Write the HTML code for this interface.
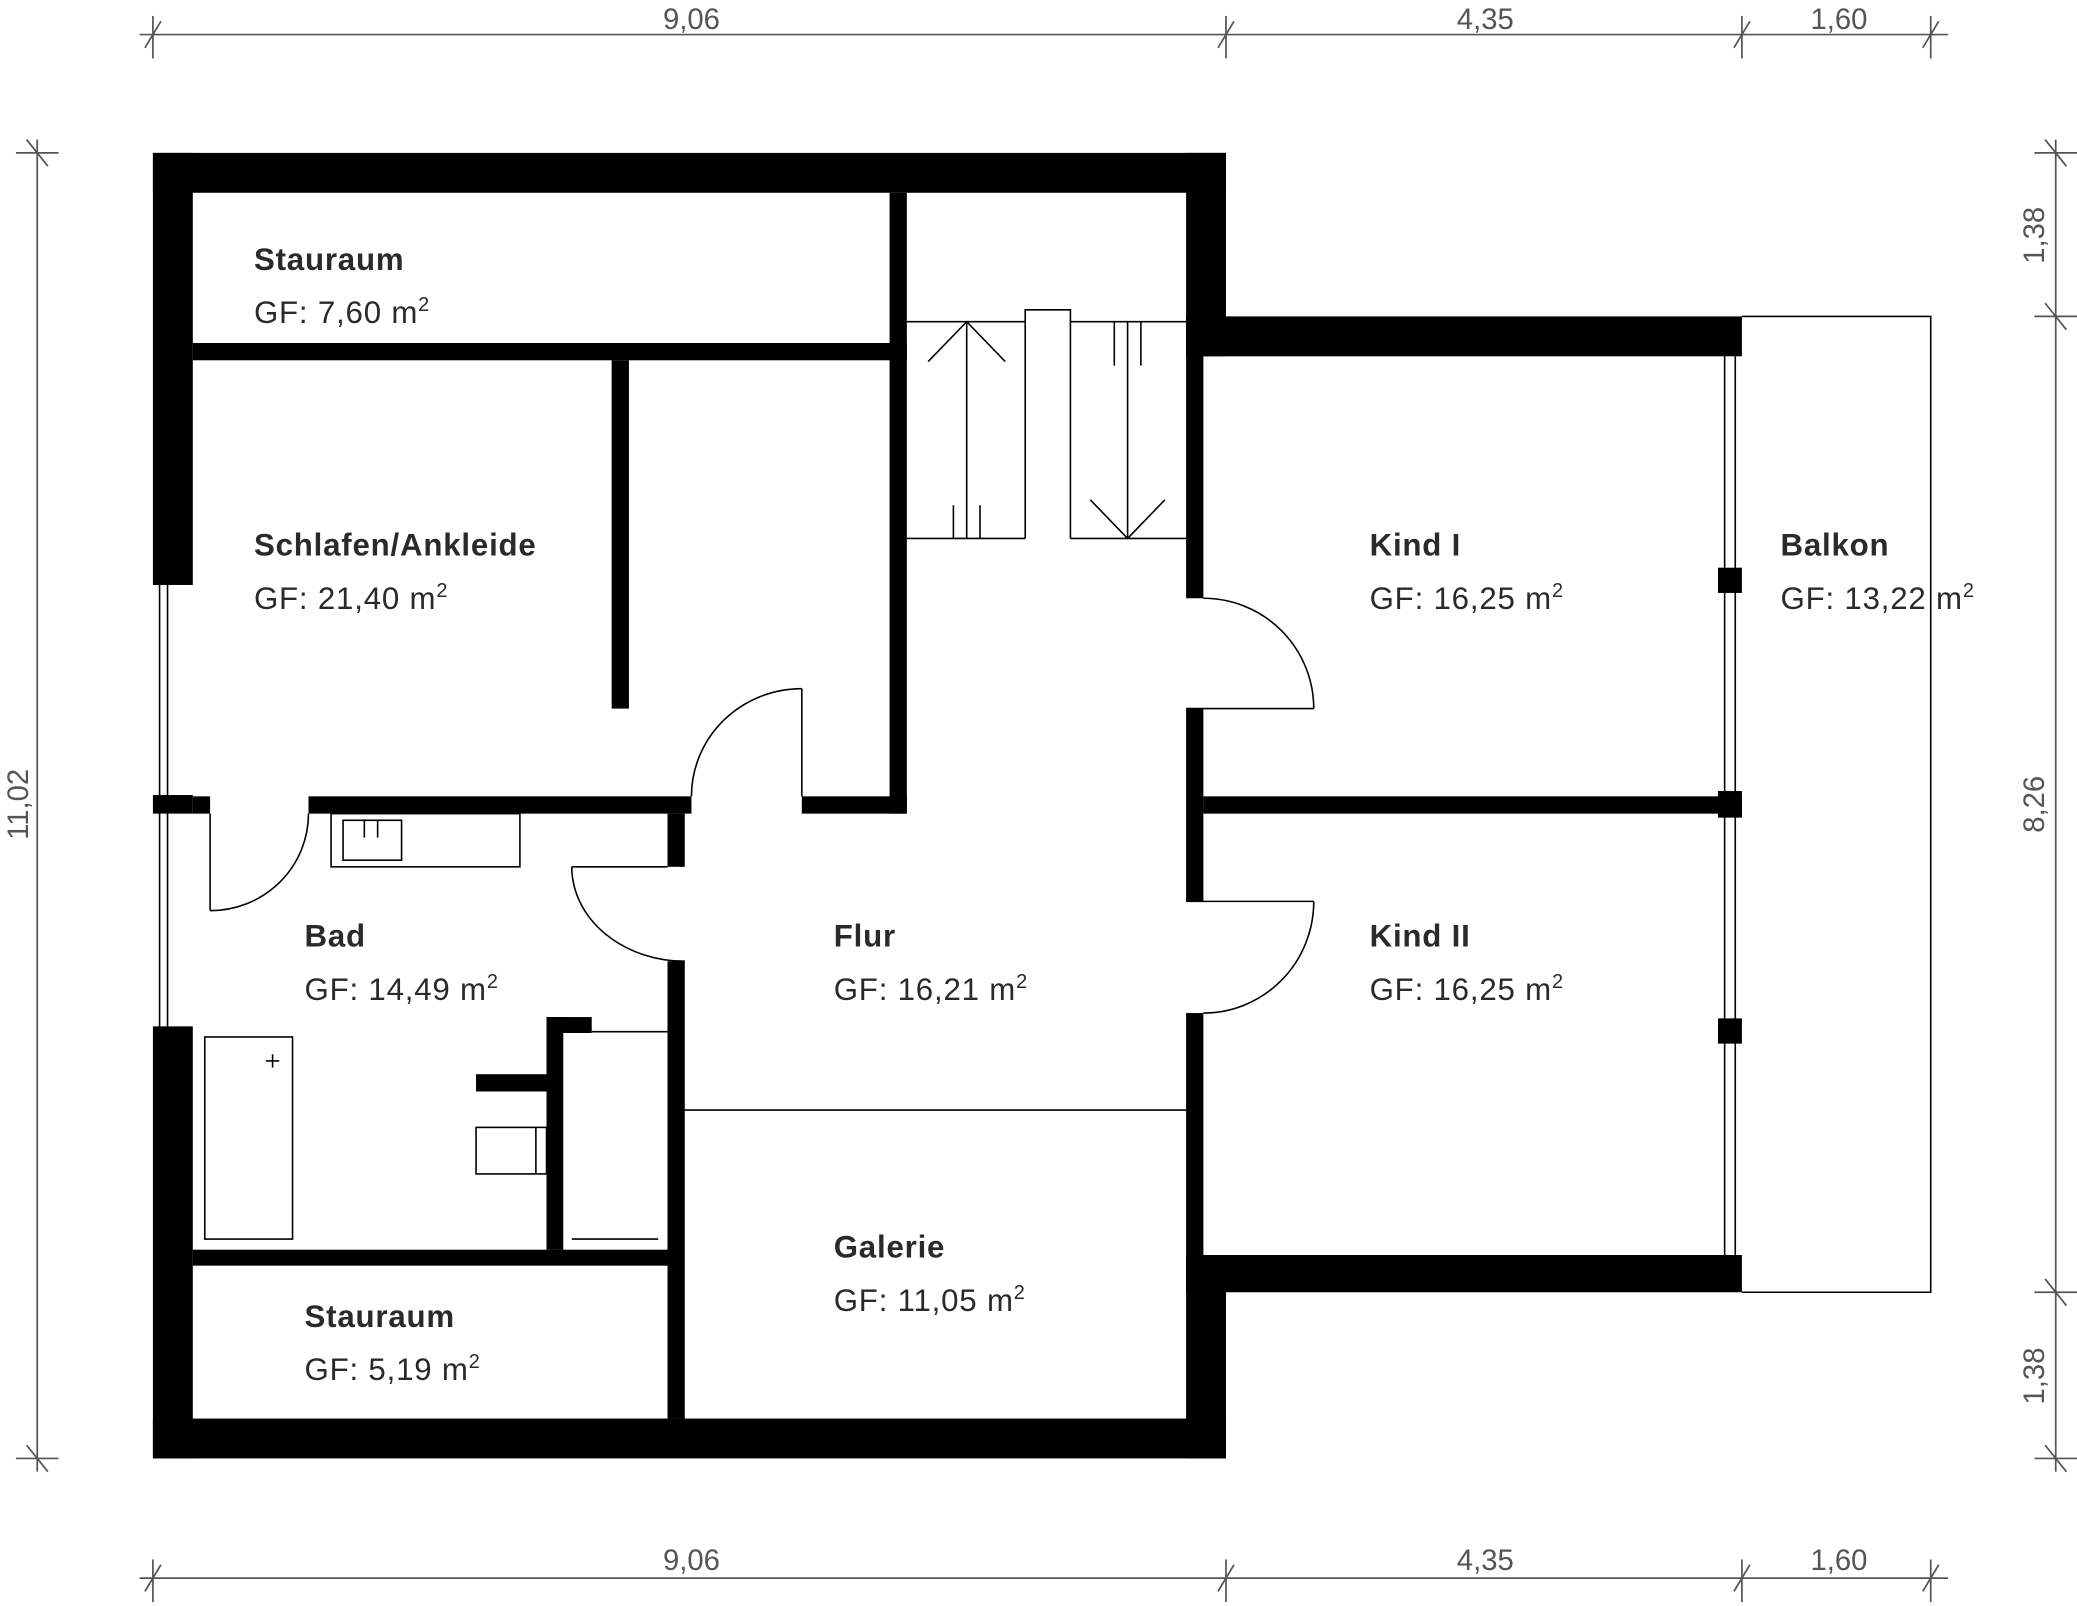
<!DOCTYPE html>
<html><head><meta charset="utf-8"><style>
html,body{margin:0;padding:0;background:#fff;}
svg{display:block;}
.b{font-family:"Liberation Sans",sans-serif;font-weight:bold;font-size:23.5px;letter-spacing:0.6px;fill:#2a2a2a;}
.r{font-family:"Liberation Sans",sans-serif;font-size:23.5px;letter-spacing:0.6px;fill:#2a2a2a;}
.d{font-family:"Liberation Sans",sans-serif;font-size:22px;fill:#555;}
</style></head><body>
<svg width="2077" height="1606" viewBox="0 0 1562 1208" preserveAspectRatio="none" xmlns="http://www.w3.org/2000/svg">
<rect width="1562" height="1208" fill="#fff"/>
<g stroke="#555" stroke-width="1.3" fill="none">
<line x1="105" y1="26" x2="1465" y2="26"/>
<line x1="105" y1="1187" x2="1465" y2="1187"/>
<line x1="28" y1="105" x2="28" y2="1107"/>
<line x1="1546" y1="105" x2="1546" y2="1107"/>
<g>
<line x1="115" y1="12" x2="115" y2="44"/><line x1="109" y1="36" x2="121" y2="16"/>
<line x1="922" y1="12" x2="922" y2="44"/><line x1="916" y1="36" x2="928" y2="16"/>
<line x1="1310" y1="12" x2="1310" y2="44"/><line x1="1304" y1="36" x2="1316" y2="16"/>
<line x1="1452" y1="12" x2="1452" y2="44"/><line x1="1446" y1="36" x2="1458" y2="16"/>
</g>
<g transform="translate(0,1161)">
<line x1="115" y1="12" x2="115" y2="44"/><line x1="109" y1="36" x2="121" y2="16"/>
<line x1="922" y1="12" x2="922" y2="44"/><line x1="916" y1="36" x2="928" y2="16"/>
<line x1="1310" y1="12" x2="1310" y2="44"/><line x1="1304" y1="36" x2="1316" y2="16"/>
<line x1="1452" y1="12" x2="1452" y2="44"/><line x1="1446" y1="36" x2="1458" y2="16"/>
</g>
<line x1="12" y1="115" x2="44" y2="115"/><line x1="20" y1="105" x2="36" y2="125"/>
<line x1="12" y1="1097" x2="44" y2="1097"/><line x1="20" y1="1087" x2="36" y2="1107"/>
<line x1="1530" y1="115" x2="1562" y2="115"/><line x1="1538" y1="105" x2="1554" y2="125"/>
<line x1="1530" y1="238" x2="1562" y2="238"/><line x1="1538" y1="228" x2="1554" y2="248"/>
<line x1="1530" y1="972" x2="1562" y2="972"/><line x1="1538" y1="962" x2="1554" y2="982"/>
<line x1="1530" y1="1097" x2="1562" y2="1097"/><line x1="1538" y1="1087" x2="1554" y2="1107"/>
</g>
<text class="d" x="520" y="22" text-anchor="middle">9,06</text>
<text class="d" x="1117" y="22" text-anchor="middle">4,35</text>
<text class="d" x="1383" y="22" text-anchor="middle">1,60</text>
<text class="d" x="520" y="1181" text-anchor="middle">9,06</text>
<text class="d" x="1117" y="1181" text-anchor="middle">4,35</text>
<text class="d" x="1383" y="1181" text-anchor="middle">1,60</text>
<text class="d" transform="translate(21,605) rotate(-90)" text-anchor="middle">11,02</text>
<text class="d" transform="translate(1537,177) rotate(-90)" text-anchor="middle">1,38</text>
<text class="d" transform="translate(1537,605) rotate(-90)" text-anchor="middle">8,26</text>
<text class="d" transform="translate(1537,1035) rotate(-90)" text-anchor="middle">1,38</text>

<g fill="#000">
<rect x="115" y="115" width="807" height="30"/>
<rect x="115" y="115" width="30" height="325"/>
<rect x="115" y="598" width="30" height="14"/>
<rect x="115" y="772" width="30" height="325"/>
<rect x="115" y="1067" width="807" height="30"/>
<rect x="892" y="115" width="30" height="153"/>
<rect x="892" y="238" width="418" height="30"/>
<rect x="892" y="944" width="418" height="28"/>
<rect x="892" y="944" width="30" height="153"/>
<rect x="892" y="238" width="13" height="212"/>
<rect x="892" y="533" width="13" height="145"/>
<rect x="892" y="762" width="13" height="210"/>
<rect x="905" y="599" width="405" height="13"/>
<rect x="1292" y="427" width="18" height="19"/>
<rect x="1292" y="595" width="18" height="20"/>
<rect x="1292" y="766" width="18" height="19"/>
<rect x="145" y="258" width="537" height="13"/>
<rect x="669" y="145" width="13" height="467"/>
<rect x="460" y="271" width="13" height="262"/>
<rect x="145" y="599" width="13" height="13"/>
<rect x="232" y="599" width="288" height="13"/>
<rect x="603" y="599" width="79" height="13"/>
<rect x="502" y="612" width="13" height="40"/>
<rect x="502" y="723" width="13" height="344"/>
<rect x="145" y="940" width="357" height="12"/>
<rect x="411" y="765" width="12" height="175"/>
<rect x="411" y="765" width="34" height="12"/>
<rect x="358" y="808" width="53" height="13"/>
</g>
<g stroke="#000" stroke-width="1.2" fill="none">
<line x1="120" y1="440" x2="120" y2="598"/><line x1="126" y1="440" x2="126" y2="598"/>
<line x1="120" y1="612" x2="120" y2="772"/><line x1="126" y1="612" x2="126" y2="772"/>
<line x1="1297" y1="268" x2="1297" y2="944"/><line x1="1305" y1="268" x2="1305" y2="944"/>
<polyline points="1310,238 1452,238 1452,972 1310,972"/>
<line x1="682" y1="242" x2="771" y2="242"/><line x1="805" y1="242" x2="892" y2="242"/>
<line x1="682" y1="405" x2="771" y2="405"/><line x1="805" y1="405" x2="892" y2="405"/>
<polyline points="771,405 771,233 805,233 805,405"/>
<line x1="727" y1="242" x2="727" y2="405"/><polyline points="698,272 727,242 756,272"/>
<line x1="717" y1="380" x2="717" y2="405"/><line x1="737" y1="380" x2="737" y2="405"/>
<line x1="848" y1="242" x2="848" y2="405"/><polyline points="820,376 848,405 876,376"/>
<line x1="838" y1="242" x2="838" y2="275"/><line x1="858" y1="242" x2="858" y2="275"/>
<line x1="603" y1="518" x2="603" y2="599"/><path d="M520,599 A83,81 0 0 1 603,518"/>
<line x1="158" y1="612" x2="158" y2="685"/><path d="M158,685 A74,73 0 0 0 232,612"/>
<line x1="430" y1="652" x2="502" y2="652"/><path d="M430,652 A85,71 0 0 0 515,723"/>
<path d="M905,450 A83,83 0 0 1 988,533"/><line x1="892" y1="533" x2="988" y2="533"/>
<line x1="892" y1="678" x2="988" y2="678"/><path d="M988,678 A83,84 0 0 1 905,762"/>
<line x1="515" y1="835" x2="892" y2="835"/>
<rect x="249" y="612" width="142" height="40"/>
<rect x="258" y="617" width="44" height="30"/>
<line x1="274" y1="617" x2="274" y2="630"/><line x1="284" y1="617" x2="284" y2="630"/>
<rect x="154" y="780" width="66" height="152"/>
<line x1="200" y1="798" x2="210" y2="798"/><line x1="205" y1="793" x2="205" y2="803"/>
<rect x="358" y="848" width="53" height="35"/><line x1="403" y1="848" x2="403" y2="883"/>
<line x1="445" y1="776" x2="502" y2="776"/><line x1="423" y1="777" x2="423" y2="940"/>
<line x1="430" y1="932" x2="495" y2="932"/>
</g>
<text class="b" x="191" y="203">Stauraum</text><text class="r" x="191" y="243">GF: 7,60 m<tspan dy="-9" font-size="15">2</tspan></text>
<text class="b" x="191" y="418">Schlafen/Ankleide</text><text class="r" x="191" y="458">GF: 21,40 m<tspan dy="-9" font-size="15">2</tspan></text>
<text class="b" x="229" y="712">Bad</text><text class="r" x="229" y="752">GF: 14,49 m<tspan dy="-9" font-size="15">2</tspan></text>
<text class="b" x="627" y="712">Flur</text><text class="r" x="627" y="752">GF: 16,21 m<tspan dy="-9" font-size="15">2</tspan></text>
<text class="b" x="627" y="946">Galerie</text><text class="r" x="627" y="986">GF: 11,05 m<tspan dy="-9" font-size="15">2</tspan></text>
<text class="b" x="229" y="998">Stauraum</text><text class="r" x="229" y="1038">GF: 5,19 m<tspan dy="-9" font-size="15">2</tspan></text>
<text class="b" x="1030" y="418">Kind I</text><text class="r" x="1030" y="458">GF: 16,25 m<tspan dy="-9" font-size="15">2</tspan></text>
<text class="b" x="1030" y="712">Kind II</text><text class="r" x="1030" y="752">GF: 16,25 m<tspan dy="-9" font-size="15">2</tspan></text>
<text class="b" x="1339" y="418">Balkon</text><text class="r" x="1339" y="458">GF: 13,22 m<tspan dy="-9" font-size="15">2</tspan></text>
</svg>
</body></html>
